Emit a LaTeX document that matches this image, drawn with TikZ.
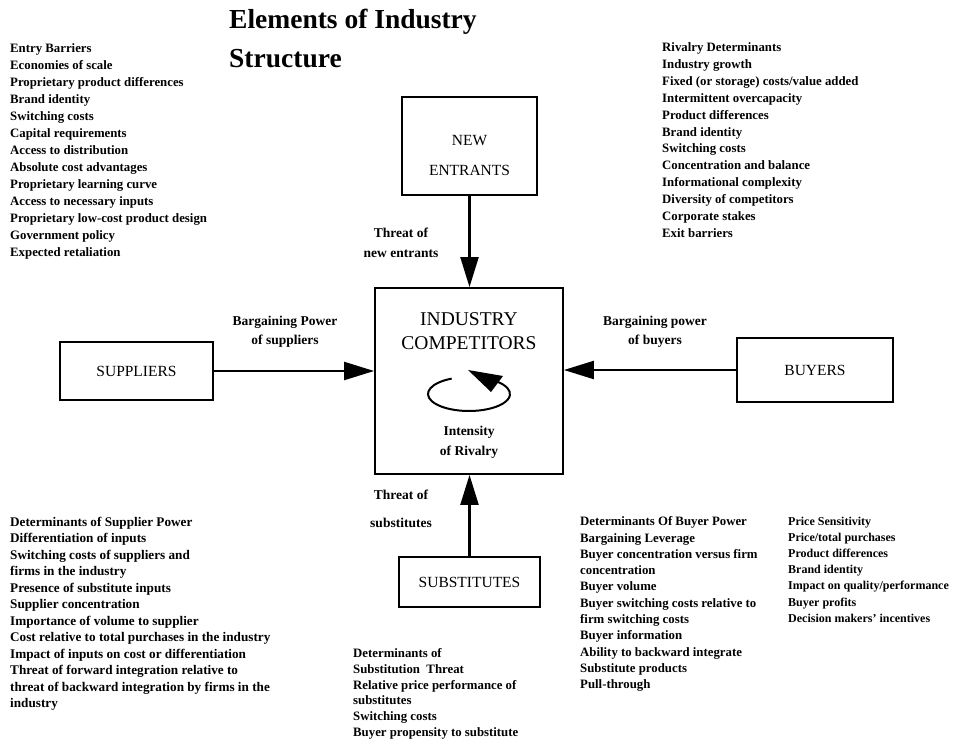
\documentclass[tikz,border=0pt]{standalone}
\usepackage{fontspec}
\setmainfont{Liberation Serif}
\usetikzlibrary{arrows.meta}
\begin{document}
\begin{tikzpicture}[x=1pt,y=-1pt,
  box/.style={draw, line width=1.8pt, inner sep=0, align=center, font=\fontsize{15.5}{30}\selectfont},
  boxtext/.style={align=center, inner sep=0, font=\fontsize{15.5}{30}\selectfont},
  lst/.style={anchor=north west, inner sep=0, align=left},
  lbl/.style={align=center, inner sep=0},
  force/.style={line width=2.2pt, -{Triangle[length=30pt,width=18pt]}}
]
\path[use as bounding box, fill=white] (0,0) rectangle (959,744);

% title
\node[anchor=west, inner sep=0, font=\bfseries\fontsize{27.5}{36}\selectfont] (title1) at (229,22) {Elements of Industry};
\node[anchor=west, inner sep=0, font=\bfseries\fontsize{27.5}{36}\selectfont] (title2) at (229,59) {Structure};

% boxes
\node[box, minimum width=135pt, minimum height=98pt] (newentrants) at (469.5,146) {};
\node[boxtext] (newtext) at (469.5,155) {NEW\\ENTRANTS};
\node[box, minimum width=188pt, minimum height=186pt] (comp) at (469,381) {};
\node[lbl, font=\fontsize{19.5}{24}\selectfont] (comptext) at (469,331) {INDUSTRY\\COMPETITORS};
\node[box, minimum width=153pt, minimum height=58pt] (suppliers) at (136.5,371) {SUPPLIERS};
\node[box, minimum width=156pt, minimum height=64pt] (buyers) at (815,370) {BUYERS};
\node[box, minimum width=141pt, minimum height=50pt] (substitutes) at (469.5,582) {SUBSTITUTES};

% forces
\draw[force] (newentrants.south) -- (newentrants.south |- comp.north);
\draw[force] (suppliers.east) -- (suppliers.east -| comp.west);
\draw[force] (buyers.west) -- (buyers.west -| comp.east);
\draw[force] (substitutes.north) -- (substitutes.north |- comp.south);

% rivalry cycle
\coordinate (cyc) at (469,394);
\draw[line width=2pt] (cyc) ++(245:41 and 17) arc[start angle=245, end angle=-47, x radius=41, y radius=17];
\fill (cyc) ++(-1,-24) -- ++(35,6) -- ++(-12,16) -- cycle;

% labels
\node[lbl, font=\bfseries\fontsize{13.5}{20}\selectfont] (lnew) at (401,243) {Threat of\\new entrants};
\node[lbl, font=\bfseries\fontsize{13.5}{19}\selectfont] (lsup) at (285,332) {Bargaining Power\\of suppliers};
\node[lbl, font=\bfseries\fontsize{13.5}{19}\selectfont] (lbuy) at (655,332) {Bargaining power\\of buyers};
\node[lbl, font=\bfseries\fontsize{13.5}{20}\selectfont] (lriv) at (469,442) {Intensity\\of Rivalry};
\node[lbl, font=\bfseries\fontsize{13.5}{28}\selectfont] (lsub) at (401,509) {Threat of\\substitutes};

% lists
\node[lst, font=\bfseries\fontsize{12.8}{17}\selectfont] (entry) at (10,43.5) {Entry Barriers\\Economies of scale\\Proprietary product differences\\Brand identity\\Switching costs\\Capital requirements\\Access to distribution\\Absolute cost advantages\\Proprietary learning curve\\Access to necessary inputs\\Proprietary low-cost product design\\Government policy\\Expected retaliation};

\node[lst, font=\bfseries\fontsize{12.8}{16.9}\selectfont] (rivalry) at (662,42.5) {Rivalry Determinants\\Industry growth\\Fixed (or storage) costs/value added\\Intermittent overcapacity\\Product differences\\Brand identity\\Switching costs\\Concentration and balance\\Informational complexity\\Diversity of competitors\\Corporate stakes\\Exit barriers};

\node[lst, font=\bfseries\fontsize{13.2}{16.5}\selectfont] (supplierpower) at (10,516.5) {Determinants of Supplier Power\\Differentiation of inputs\\Switching costs of suppliers and\\firms in the industry\\Presence of substitute inputs\\Supplier concentration\\Importance of volume to supplier\\Cost relative to total purchases in the industry\\Impact of inputs on cost or differentiation\\Threat of forward integration relative to\\threat of backward integration by firms in the\\industry};

\node[lst, font=\bfseries\fontsize{12.8}{15.7}\selectfont] (subthreat) at (353,648.5) {Determinants of\\Substitution~~Threat\\Relative price performance of\\substitutes\\Switching costs\\Buyer propensity to substitute};

\node[lst, font=\bfseries\fontsize{12.8}{16.3}\selectfont] (buyerpower) at (580,516.5) {Determinants Of Buyer Power\\Bargaining Leverage\\Buyer concentration versus firm\\concentration\\Buyer volume\\Buyer switching costs relative to\\firm switching costs\\Buyer information\\Ability to backward integrate\\Substitute products\\Pull-through};

\node[lst, font=\bfseries\fontsize{12}{16.2}\selectfont] (pricesens) at (788,516.5) {Price Sensitivity\\Price/total purchases\\Product differences\\Brand identity\\Impact on quality/performance\\Buyer profits\\Decision makers' incentives};
\end{tikzpicture}
\end{document}
